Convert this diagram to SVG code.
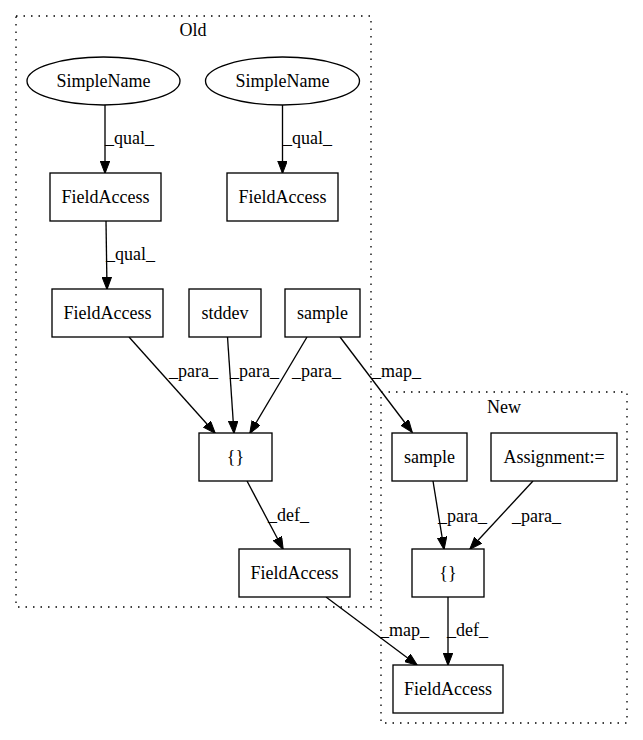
<svg xmlns="http://www.w3.org/2000/svg" width="643" height="740" viewBox="0 0 643 740">
<style>
text{font-family:"Liberation Serif","Times New Roman",serif;font-size:18px;fill:#000}
.n{fill:#fff;stroke:#000;stroke-width:1.33}
.c{fill:none;stroke:#000;stroke-width:1.33;stroke-dasharray:1.5,6}
.e{fill:none;stroke:#000;stroke-width:1.33;marker-end:url(#a)}
.m{text-anchor:middle}
</style>
<defs>
<marker id="a" markerUnits="userSpaceOnUse" markerWidth="13" markerHeight="10" refX="12" refY="4.75" orient="auto">
<path d="M0,0 L12.5,4.75 L0,9.5 z" fill="#000" stroke="#000" stroke-width="1"/>
</marker>
</defs>
<rect width="643" height="740" fill="#fff"/>
<g id="cluster_old"><rect class="c" x="16" y="16" width="355" height="591"/><text class="m" x="193" y="36">Old</text></g>
<g id="cluster_new"><rect class="c" x="381" y="392" width="246" height="331"/><text class="m" x="504" y="413">New</text></g>
<g id="connectors">
<line class="e" x1="105" y1="105" x2="105" y2="173"/><text x="105" y="144">_qual_</text>
<line class="e" x1="282.5" y1="105" x2="282.5" y2="173"/><text x="283" y="144">_qual_</text>
<line class="e" x1="106" y1="221" x2="107" y2="289"/><text x="106" y="260">_qual_</text>
<line class="e" x1="129" y1="337" x2="215" y2="433"/><text x="169" y="377">_para_</text>
<line class="e" x1="227.5" y1="337" x2="234" y2="433"/><text x="230" y="377">_para_</text>
<line class="e" x1="307" y1="337" x2="250" y2="433"/><text x="292" y="377">_para_</text>
<line class="e" x1="340" y1="337" x2="412" y2="432"/><text x="372" y="377">_map_</text>
<line class="e" x1="247" y1="481" x2="283" y2="549"/><text x="268" y="521">_def_</text>
<line class="e" x1="433" y1="481" x2="444" y2="549"/><text x="438" y="522">_para_</text>
<line class="e" x1="533" y1="481" x2="470" y2="549"/><text x="512" y="522">_para_</text>
<line class="e" x1="448" y1="597" x2="448" y2="665"/><text x="447" y="636">_def_</text>
<line class="e" x1="326" y1="597" x2="417" y2="665"/><text x="380" y="636">_map_</text>
</g>
<g id="sn1"><ellipse class="n" cx="103.5" cy="81" rx="76.5" ry="24"/><text class="m" x="103.5" y="87">SimpleName</text></g>
<g id="sn2"><ellipse class="n" cx="282.5" cy="81" rx="77" ry="24"/><text class="m" x="282.5" y="87">SimpleName</text></g>
<g id="fa1"><rect class="n" x="50" y="173" width="111" height="48"/><text class="m" x="105.5" y="203">FieldAccess</text></g>
<g id="fa2"><rect class="n" x="227" y="173" width="111" height="48"/><text class="m" x="282.5" y="203">FieldAccess</text></g>
<g id="fa3"><rect class="n" x="52" y="289" width="111" height="48"/><text class="m" x="107.5" y="319">FieldAccess</text></g>
<g id="stddev"><rect class="n" x="189" y="289" width="72" height="48"/><text class="m" x="225" y="319">stddev</text></g>
<g id="sample_old"><rect class="n" x="285" y="289" width="75" height="48"/><text class="m" x="322.5" y="319">sample</text></g>
<g id="braces_old"><rect class="n" x="199" y="433" width="73" height="48"/><text class="m" x="235.5" y="463">{}</text></g>
<g id="fa_old"><rect class="n" x="239" y="549" width="111" height="48"/><text class="m" x="294.5" y="579">FieldAccess</text></g>
<g id="sample_new"><rect class="n" x="392" y="433" width="75" height="48"/><text class="m" x="429.5" y="463">sample</text></g>
<g id="assign"><rect class="n" x="491" y="433" width="126" height="48"/><text class="m" x="554" y="463">Assignment:=</text></g>
<g id="braces_new"><rect class="n" x="412" y="549" width="72" height="48"/><text class="m" x="448" y="579">{}</text></g>
<g id="fa_new"><rect class="n" x="393" y="665" width="110" height="48"/><text class="m" x="448" y="695">FieldAccess</text></g>
</svg>
